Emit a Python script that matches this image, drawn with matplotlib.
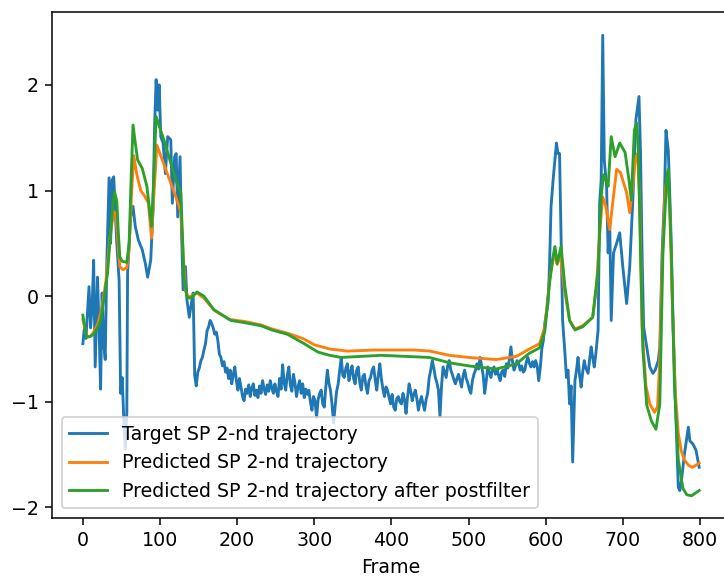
import matplotlib
matplotlib.use("Agg")
import matplotlib.pyplot as plt

# Target (blue) trajectory
target_frames_a = [0, 2, 4, 6, 8, 10, 12, 14, 16, 19, 21, 23, 25, 27, 29, 31, 34, 36, 38, 40, 42, 44, 47, 49, 51, 53, 55, 57, 58, 62, 65, 68, 72, 77, 81, 84, 88, 91, 93, 95, 97, 99, 101, 104, 107, 110, 114, 116, 119, 121, 123, 126, 128, 130, 133, 135, 138, 140, 143]
target_values_a = [-0.45, -0.30, -0.40, -0.15, 0.09, -0.30, -0.10, 0.34, -0.67, 0.18, -0.30, -0.88, 0.03, -0.45, -0.60, 0.30, 1.12, 0.50, 1.10, 1.13, 0.82, 0.50, 0.15, -0.92, -0.77, -1.15, -1.45, -1.10, 0.22, 0.75, 0.85, 0.66, 0.53, 0.44, 0.31, 0.18, 0.34, 0.82, 1.61, 2.05, 1.76, 2.00, 1.51, 1.45, 1.16, 1.51, 1.48, 0.88, 1.32, 1.35, 0.75, 1.32, 0.59, 0.06, 0.28, -0.04, -0.20, -0.10, 0.03]
target_frames_b = list(range(145, 600, 2))
target_values_b = [
    -0.75, -0.85, -0.72, -0.68, -0.61, -0.58, -0.51, -0.45, -0.33, -0.29,
    -0.23, -0.26, -0.30, -0.36, -0.34, -0.42, -0.55, -0.58, -0.66, -0.62,
    -0.72, -0.68, -0.78, -0.70, -0.83, -0.74, -0.67, -0.80, -0.89, -0.78,
    -0.86, -0.95, -0.99, -0.88, -0.92, -0.84, -0.95, -0.87, -0.83, -0.94,
    -0.89, -0.96, -0.85, -0.92, -0.80, -0.88, -0.93, -0.84, -0.90, -0.80,
    -0.87, -0.92, -0.83, -0.90, -0.95, -0.78, -0.88, -0.65, -0.82, -0.89,
    -0.75, -0.67, -0.84, -0.90, -0.74, -0.82, -0.95, -0.86, -0.80, -0.92,
    -0.83, -0.96, -0.88, -0.93, -0.89, -1.00, -1.08, -0.95, -0.99, -1.15,
    -0.98, -0.92, -0.89, -1.02, -1.05, -0.86, -0.70, -0.82, -0.89, -1.02,
    -1.20, -1.05, -0.90, -0.83, -0.70, -0.58, -0.75, -0.77, -0.68, -0.64,
    -0.80, -0.72, -0.66, -0.78, -0.83, -0.70, -0.67, -0.82, -0.89, -0.76,
    -0.74, -0.85, -0.92, -0.80, -0.77, -0.70, -0.67, -0.79, -0.89, -0.75,
    -0.64, -0.78, -0.88, -0.95, -0.86, -0.89, -0.96, -1.02, -0.93, -1.05,
    -1.08, -0.97, -0.95, -1.00, -1.02, -0.92, -0.98, -1.11, -0.95, -0.83,
    -0.90, -0.99, -0.93, -0.89, -0.97, -1.08, -1.00, -0.95, -1.02, -1.08,
    -0.98, -0.92, -0.77, -0.70, -0.61, -0.68, -0.77, -0.82, -0.89, -1.14,
    -0.85, -0.67, -0.72, -0.77, -0.66, -0.61, -0.70, -0.74, -0.79, -0.83,
    -0.78, -0.74, -0.80, -0.86, -0.75, -0.70, -0.78, -0.82, -0.88, -0.92,
    -0.80, -0.74, -0.70, -0.64, -0.69, -0.58, -0.66, -0.75, -0.92, -0.80,
    -0.67, -0.72, -0.77, -0.70, -0.67, -0.74, -0.69, -0.75, -0.80, -0.72,
    -0.70, -0.76, -0.64, -0.68, -0.60, -0.48, -0.62, -0.70, -0.66, -0.61,
    -0.64, -0.70, -0.66, -0.72, -0.70, -0.62, -0.58, -0.64, -0.67, -0.62,
    -0.67, -0.61, -0.66, -0.80, -0.68, -0.50, -0.42, -0.25]
target_frames_c = [603, 605, 607, 610, 614, 616, 618, 620, 622, 625, 627, 629, 631, 633, 635, 638, 640, 642, 644, 646, 648, 650, 652, 655, 657, 659, 661, 663, 665, 668, 670, 672, 674, 676, 679, 681, 683, 685, 688, 692, 696, 700, 705, 709, 713, 717, 721, 723, 725, 727, 731, 735, 739, 742, 746, 748, 751, 754, 756, 759, 762, 765, 769, 772, 774, 776, 780, 785, 787, 791, 795, 799]
target_values_c = [-0.07, 0.28, 0.85, 1.13, 1.45, 1.35, 1.35, 0.56, -0.23, -0.54, -0.77, -0.70, -1.02, -0.85, -1.57, -0.80, -0.70, -0.58, -0.75, -0.86, -0.72, -0.61, -0.68, -0.73, -0.60, -0.48, -0.58, -0.67, -0.55, -0.32, 0.88, 1.10, 2.47, 1.29, 1.04, 0.41, 0.72, -0.23, 0.41, 0.50, 0.60, 0.28, -0.07, 0.28, 0.91, 1.67, 1.89, 1.35, 0.41, -0.29, -0.48, -0.67, -0.73, -0.70, -0.61, -0.48, 0.41, 0.94, 1.57, 1.38, 0.72, -0.23, -1.18, -1.81, -1.84, -1.75, -1.49, -1.24, -1.37, -1.40, -1.46, -1.62]

pred_frames = [0, 5, 10, 15, 20, 25, 30, 35, 40, 43, 46, 48, 52, 57, 60, 63, 66, 70, 75, 80, 85, 89, 92, 96, 100, 105, 110, 115, 120, 127, 130, 133, 137, 140, 148, 157, 170, 190, 210, 230, 245, 265, 285, 300, 320, 343, 378, 430, 450, 475, 500, 536, 562, 579, 592, 599, 603, 606, 611, 615, 619, 624, 631, 638, 648, 661, 666, 670, 674, 678, 683, 688, 692, 697, 702, 705, 709, 713, 716, 719, 722, 725, 730, 735, 741, 745, 748, 751, 755, 758, 761, 764, 768, 772, 776, 780, 785, 790, 795, 799]
pred_values = [-0.22, -0.38, -0.38, -0.33, -0.25, -0.10, 0.15, 0.55, 0.80, 0.78, 0.45, 0.28, 0.25, 0.27, 0.45, 0.95, 1.33, 1.15, 1.00, 0.95, 0.88, 0.55, 0.95, 1.43, 1.35, 1.25, 1.15, 1.05, 0.95, 0.80, 0.40, 0.05, -0.01, 0.0, 0.03, -0.02, -0.13, -0.22, -0.24, -0.27, -0.31, -0.35, -0.40, -0.46, -0.50, -0.52, -0.51, -0.51, -0.52, -0.56, -0.58, -0.60, -0.57, -0.50, -0.45, -0.29, 0.0, 0.20, 0.40, 0.30, 0.40, 0.08, -0.23, -0.31, -0.28, -0.20, 0.10, 0.60, 0.94, 0.85, 0.63, 0.95, 1.20, 1.17, 1.05, 0.98, 0.79, 1.05, 1.29, 1.35, 0.90, -0.30, -0.85, -1.02, -1.10, -1.05, -0.60, 0.30, 1.00, 1.15, 0.80, 0.00, -0.90, -1.30, -1.47, -1.55, -1.60, -1.62, -1.60, -1.58]

post_frames = [0, 5, 10, 14, 19, 23, 28, 32, 38, 41, 44, 46, 48, 51, 57, 60, 62, 65, 68, 71, 77, 83, 86, 89, 92, 95, 99, 105, 114, 122, 127, 129, 131, 135, 140, 148, 157, 170, 192, 209, 231, 245, 265, 287, 305, 320, 335, 387, 449, 475, 500, 536, 562, 579, 592, 599, 605, 609, 612, 615, 620, 625, 631, 638, 648, 661, 668, 672, 675, 678, 681, 685, 690, 696, 703, 708, 711, 715, 718, 720, 723, 726, 731, 737, 743, 748, 752, 757, 759, 763, 767, 772, 778, 783, 789, 795, 799]
post_values = [-0.18, -0.39, -0.38, -0.36, -0.30, -0.23, 0.0, 0.22, 0.79, 0.99, 0.90, 0.60, 0.37, 0.33, 0.32, 0.50, 0.98, 1.62, 1.45, 1.29, 1.21, 1.04, 0.85, 0.66, 1.13, 1.70, 1.61, 1.48, 1.26, 1.07, 0.98, 0.60, 0.18, -0.01, -0.02, 0.04, 0.00, -0.13, -0.23, -0.25, -0.28, -0.32, -0.36, -0.45, -0.53, -0.56, -0.58, -0.56, -0.58, -0.63, -0.66, -0.69, -0.64, -0.54, -0.49, -0.33, 0.12, 0.35, 0.47, 0.31, 0.47, 0.09, -0.23, -0.32, -0.29, -0.20, 0.25, 0.94, 1.15, 1.10, 1.04, 1.51, 1.32, 1.45, 1.36, 1.10, 0.91, 1.57, 1.64, 1.42, 0.40, -0.50, -1.03, -1.18, -1.26, -1.02, 0.40, 1.13, 1.20, 0.41, -0.86, -1.55, -1.82, -1.88, -1.89, -1.86, -1.84]

labels = ["Target SP 2-nd trajectory",
          "Predicted SP 2-nd trajectory",
          "Predicted SP 2-nd trajectory after postfilter"]
xlabel = "Frame"

target_frames = target_frames_a + target_frames_b + target_frames_c
target_values = target_values_a + target_values_b + target_values_c

DPI = 137
fig = plt.figure(figsize=(724 / DPI, 577 / DPI), dpi=DPI)
ax = fig.add_axes([52 / 724, 59 / 577, 678 / 724, 506 / 577])
ax.plot(target_frames, target_values, color="#1f77b4", label=labels[0])
ax.plot(pred_frames, pred_values, color="#ff7f0e", label=labels[1])
ax.plot(post_frames, post_values, color="#2ca02c", label=labels[2])
ax.set_xlim(-40, 839)
ax.set_ylim(-2.1, 2.69)
ax.set_xticks([0, 100, 200, 300, 400, 500, 600, 700, 800])
ax.set_yticks([-2, -1, 0, 1, 2])
ax.set_xlabel(xlabel)
ax.legend(loc="lower left")
fig.savefig("out.png", dpi=DPI)
